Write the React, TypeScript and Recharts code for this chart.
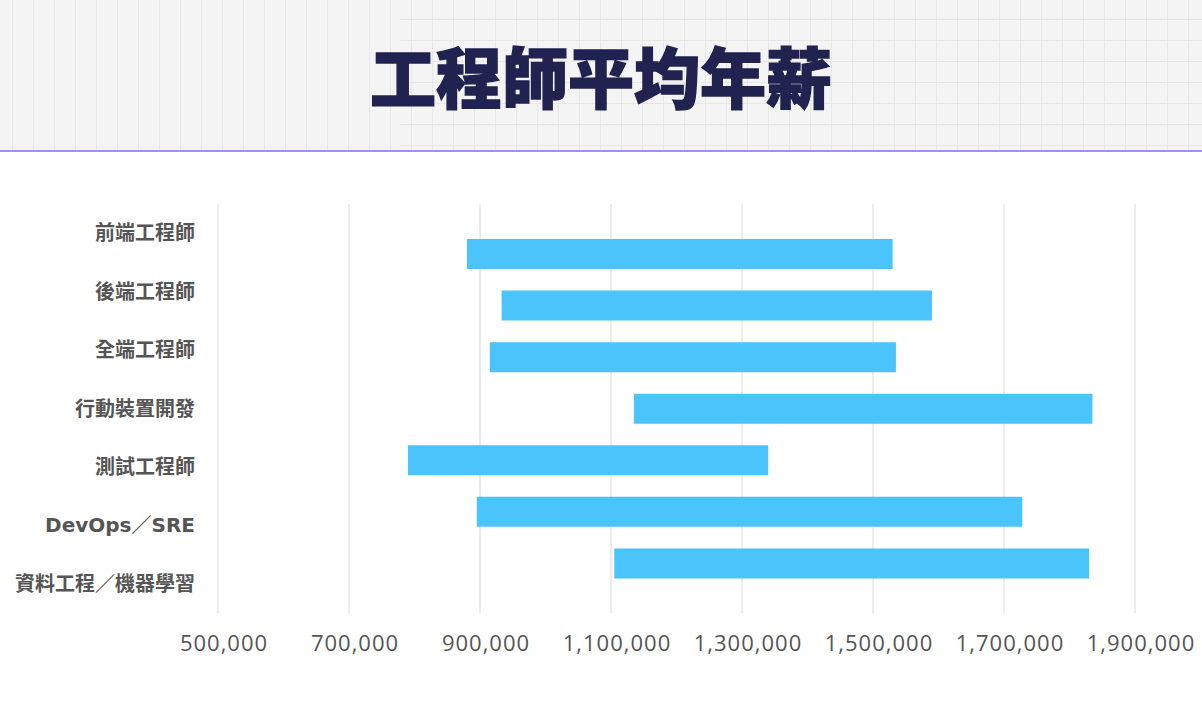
import { BarChart, Bar, XAxis, YAxis, CartesianGrid } from "recharts";

const categories = [
  "前端工程師",
  "後端工程師",
  "全端工程師",
  "行動裝置開發",
  "測試工程師",
  "DevOps／SRE",
  "資料工程／機器學習",
];
const salaryMin = [880000, 933000, 915000, 1135000, 790000, 895000, 1105000];
const salaryMax = [1530000, 1590000, 1535000, 1835000, 1340000, 1728000, 1830000];
const xTicks = [500000, 700000, 900000, 1100000, 1300000, 1500000, 1700000, 1900000];

const data = categories.map((name, i) => ({ name, range: [salaryMin[i], salaryMax[i]] }));

const labelFont = '"Open Sans", "Noto Sans CJK TC", sans-serif';
const categoryFont = '"DejaVu Sans", "Noto Sans CJK TC", sans-serif';

export default function App() {
  return (
    <div style={{ position: "absolute", left: 0, top: 0, width: 1202, height: 702, background: "#fff" }}>
      <div
        style={{
          position: "relative",
          height: 150,
          borderBottom: "2px solid #a78bfa",
          backgroundColor: "#f4f4f4",
          backgroundImage: "linear-gradient(to right, #e7e7e7 1px, transparent 1px)",
          backgroundSize: "21px 21px",
          backgroundPosition: "12px 0",
          overflow: "hidden",
        }}
      >
        <div
          style={{
            position: "absolute",
            left: 400,
            top: 0,
            right: 0,
            bottom: 0,
            backgroundImage: "linear-gradient(to bottom, #e7e7e7 1px, transparent 1px)",
            backgroundSize: "21px 21px",
            backgroundPosition: "0 19px",
          }}
        />
        <div
          style={{
            position: "absolute",
            left: 0,
            right: 0,
            top: 29,
            textAlign: "center",
            fontFamily: '"Noto Sans CJK TC", sans-serif',
            fontWeight: 900,
            fontSize: 66,
            lineHeight: "90px",
            color: "#212250",
            WebkitTextStroke: "1.5px #212250",
          }}
        >
          工程師平均年薪
        </div>
      </div>
      <BarChart
        layout="vertical"
        width={1202}
        height={550}
        data={data}
        margin={{ top: 52, right: 67, bottom: 29, left: 0 }}
      >
        <CartesianGrid horizontal={false} stroke="#dadada" yAxisId="label" />
        <XAxis
          type="number"
          domain={[500000, 1900000]}
          ticks={xTicks}
          allowDataOverflow
          axisLine={false}
          tickLine={false}
          height={60}
          tickMargin={16}
          tickFormatter={(v: number) => v.toLocaleString("en-US")}
          tick={{ fill: "#555", fontSize: 22, fontWeight: 500, fontFamily: labelFont, letterSpacing: 1, dx: 6 }}
        />
        <YAxis
          yAxisId="label"
          type="category"
          dataKey="name"
          width={218}
          axisLine={false}
          tickLine={false}
          tickMargin={17}
          interval={0}
          tick={{ fill: "#555", fontSize: 20, fontWeight: 600, fontFamily: categoryFont }}
        />
        <YAxis yAxisId="bar" type="category" dataKey="name" hide width={0} padding={{ top: 24, bottom: 24 }} />
        <Bar yAxisId="bar" dataKey="range" fill="#4bc4fb" barSize={30} isAnimationActive={false} />
      </BarChart>
    </div>
  );
}
